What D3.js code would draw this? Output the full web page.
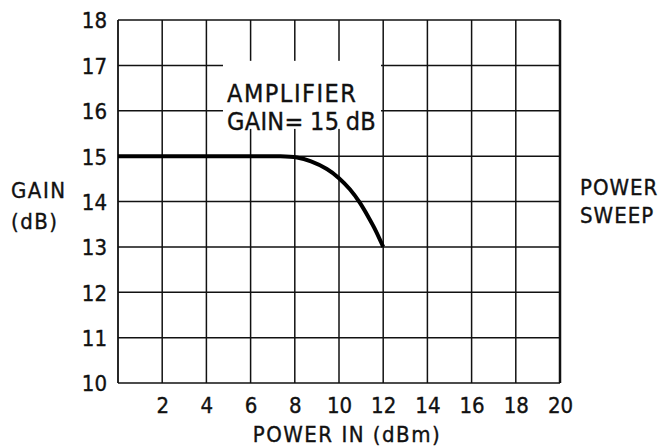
<!DOCTYPE html>
<html>
<head>
<meta charset="utf-8">
<script src="https://cdn.jsdelivr.net/npm/d3@7/dist/d3.min.js"></script>
<style>
  html, body { margin: 0; padding: 0; background: #fff; }
  svg { display: block; }
  text { font-family: "DejaVu Sans Condensed", "Liberation Sans Narrow", sans-serif; fill: #111; stroke: #111; stroke-width: 0.35px; }
</style>
</head>
<body>
<svg id="chart" width="667" height="446"></svg>
<script>
// ---- data ----
const xTicks = [2, 4, 6, 8, 10, 12, 14, 16, 18, 20];
const yTicks = [10, 11, 12, 13, 14, 15, 16, 17, 18];
const powerIn = [0, 2, 4, 6, 7.5, 8.1, 8.7, 9.5, 10, 10.5, 10.95, 11.35, 11.65, 12];
const gainDb  = [15, 15, 15, 15, 15, 14.98, 14.9, 14.72, 14.52, 14.28, 13.98, 13.64, 13.38, 13.0];
const yTitle = ["GAIN", "(dB)"];
const xTitle = "POWER IN (dBm)";
const noteLines = ["AMPLIFIER", "GAIN= 15 dB"];
const sideLabel = ["POWER", "SWEEP"];

const svg = d3.select("#chart");
const x = d3.scaleLinear().domain([0, 20]).range([118, 560]);
const y = d3.scaleLinear().domain([10, 18]).range([383, 20]);

// grid
const g = svg.append("g");
g.selectAll("line.v").data(xTicks).join("line")
  .attr("x1", d => x(d)).attr("x2", d => x(d))
  .attr("y1", y(10)).attr("y2", y(18))
  .attr("stroke", "#111").attr("stroke-width", d => d === 20 ? 2.5 : 1.5);
g.selectAll("line.h").data(yTicks).join("line")
  .attr("x1", x(0)).attr("x2", x(20))
  .attr("y1", d => y(d)).attr("y2", d => y(d))
  .attr("stroke", "#111").attr("stroke-width", 1.5);
// left axis
g.append("line").attr("x1", x(0)).attr("x2", x(0)).attr("y1", y(10)).attr("y2", y(18))
  .attr("stroke", "#111").attr("stroke-width", 1.8);

// white box behind annotation
svg.append("rect").attr("x", x(4.75)).attr("y", y(17.1)).attr("width", x(11.9) - x(4.75))
  .attr("height", y(15.6) - y(17.1)).attr("fill", "#fff");

// axes labels via d3 axis (text only)
const xAxis = d3.axisBottom(x).tickValues(xTicks).tickSize(0).tickPadding(0).tickFormat(d3.format("d"));
const xa = svg.append("g").attr("transform", `translate(0,${y(10)})`).call(xAxis);
xa.select(".domain").remove();
xa.selectAll("text").attr("dy", null).attr("y", 30).style("font-size", "22px").attr("fill", "#111");

const yAxis = d3.axisLeft(y).tickValues(yTicks).tickSize(0).tickPadding(0).tickFormat(d3.format("d"));
const ya = svg.append("g").attr("transform", `translate(${x(0) - 11},0)`).call(yAxis);
ya.select(".domain").remove();
ya.selectAll("text").attr("dy", "0.36em").attr("x", 0).style("font-size", "22px").attr("fill", "#111");

// curve
const pts = powerIn.map((p, i) => [p, gainDb[i]]);
svg.append("path").datum(pts)
  .attr("d", d3.line().x(d => x(d[0])).y(d => y(d[1])).curve(d3.curveBasis))
  .attr("fill", "none").attr("stroke", "#000").attr("stroke-width", 4).attr("stroke-linecap", "butt");

// titles
svg.append("text").attr("x", 347).attr("y", 442).attr("text-anchor", "middle")
  .style("font-size", "22px").style("letter-spacing", "1.5px").text(xTitle);
svg.selectAll("text.yt").data(yTitle).join("text")
  .attr("x", 11).attr("y", (d, i) => 198 + i * 31).style("font-size", "22px")
  .style("letter-spacing", "1.5px").text(d => d);
svg.selectAll("text.sl").data(sideLabel).join("text")
  .attr("x", 580).attr("y", (d, i) => 195 + i * 28).style("font-size", "22px")
  .style("letter-spacing", "1px").text(d => d);
svg.selectAll("text.nt").data(noteLines).join("text")
  .attr("x", 227).attr("y", (d, i) => 102 + i * 28).style("font-size", "25px")
  .style("letter-spacing", (d, i) => i === 0 ? "1.5px" : "0.3px")
  .style("word-spacing", (d, i) => i === 0 ? "0px" : "-1px").text(d => d);
</script>
</body>
</html>
